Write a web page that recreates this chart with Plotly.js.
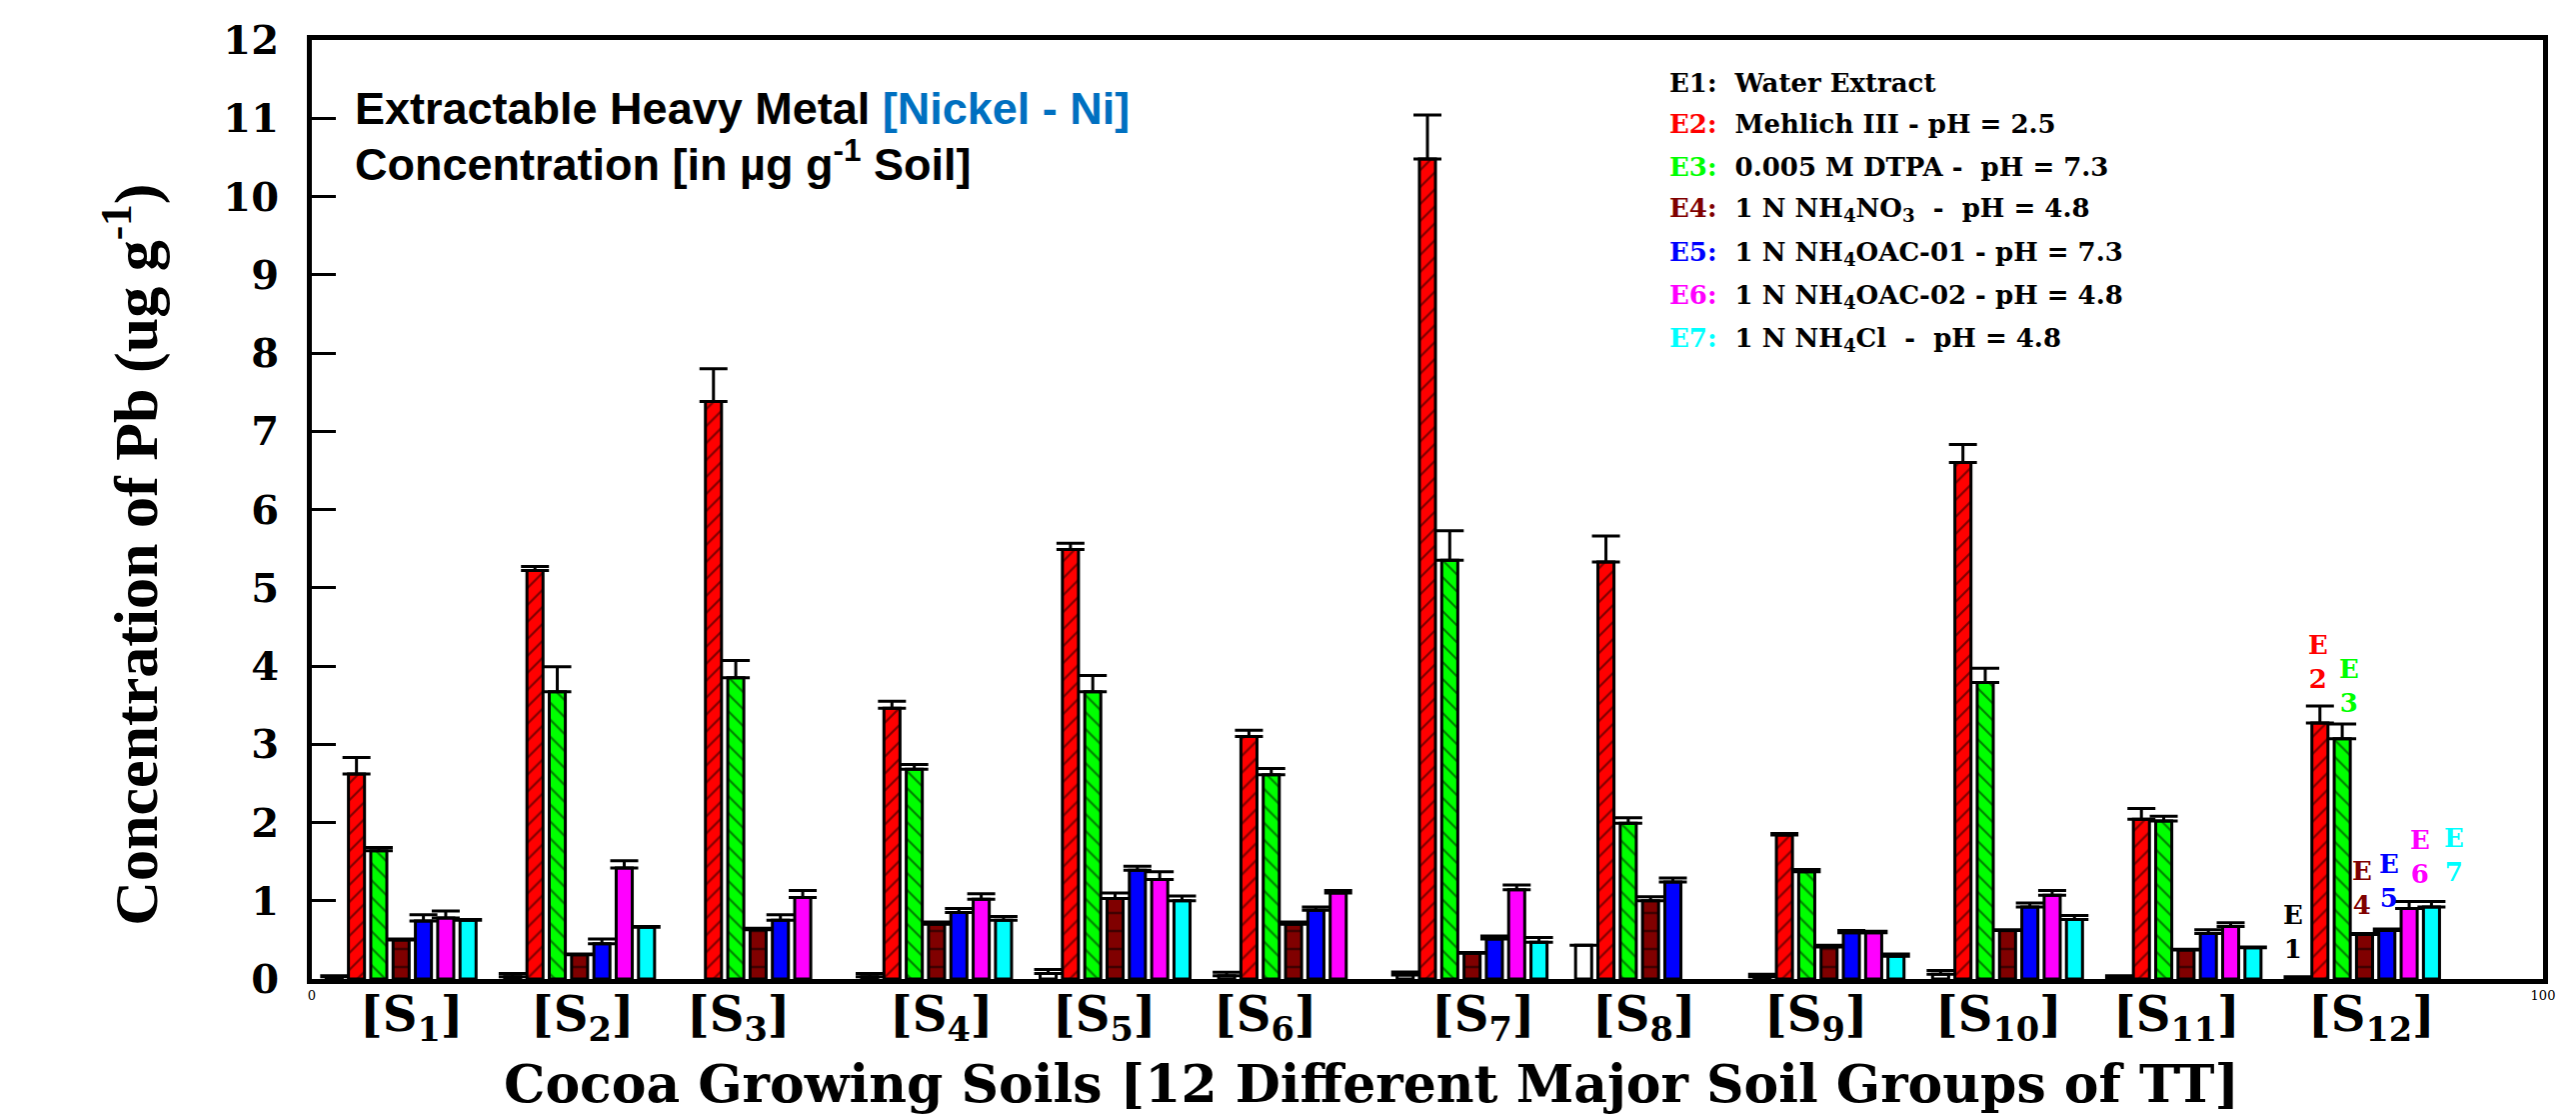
<!DOCTYPE html>
<html>
<head>
<meta charset="utf-8">
<script src="https://cdn.plot.ly/plotly-3.0.1.min.js"></script>
<style>html,body{margin:0;padding:0;background:#fff;}#chart{width:2577px;height:1114px;}</style>
</head>
<body>
<div id="chart"></div>
<script>
// ---- DATA ----
const soils = ['S1','S2','S3','S4','S5','S6','S7','S8','S9','S10','S11','S12'];
const soilLabels = ['[S<sub>1</sub>]','[S<sub>2</sub>]','[S<sub>3</sub>]','[S<sub>4</sub>]','[S<sub>5</sub>]','[S<sub>6</sub>]',
                    '[S<sub>7</sub>]','[S<sub>8</sub>]','[S<sub>9</sub>]','[S<sub>10</sub>]','[S<sub>11</sub>]','[S<sub>12</sub>]'];
const extractNames = ['E1','E2','E3','E4','E5','E6','E7'];
const legendLines = [
  'Water Extract',
  'Mehlich III - pH = 2.5',
  '0.005 M DTPA -&nbsp; pH = 7.3',
  '1 N NH<sub>4</sub>NO<sub>3</sub> &nbsp;-&nbsp; pH = 4.8',
  '1 N NH<sub>4</sub>OAC-01 - pH = 7.3',
  '1 N NH<sub>4</sub>OAC-02 - pH = 4.8',
  '1 N NH<sub>4</sub>Cl &nbsp;-&nbsp; pH = 4.8'
];
const colors = ['#FFFFFF','#FF0000','#00FF00','#800000','#0000FF','#FF00FF','#00FFFF'];
const textColors = ['#000000','#FF0000','#00FF00','#800000','#0000FF','#FF00FF','#00FFFF'];

const e1 = [0.03, 0.03, null, 0.03, 0.07, 0.04, 0.05, 0.43, 0.03, 0.06, 0.02, 0.01];
const e1Err = [0.01, 0.04, 0, 0.04, 0.05, 0.045, 0.04, 0, 0.03, 0.05, 0.02, 0.02];
const e2 = [2.62, 5.22, 7.38, 3.46, 5.49, 3.10, 10.48, 5.33, 1.84, 6.60, 2.04, 3.27];
const e2Err = [0.21, 0.05, 0.42, 0.09, 0.08, 0.08, 0.56, 0.33, 0.02, 0.23, 0.14, 0.22];
const e3 = [1.64, 3.67, 3.85, 2.68, 3.67, 2.61, 5.35, 1.99, 1.37, 3.79, 2.02, 3.07];
const e3Err = [0.04, 0.32, 0.22, 0.06, 0.21, 0.08, 0.38, 0.07, 0.03, 0.18, 0.06, 0.19];
const e4 = [0.50, 0.31, 0.63, 0.70, 1.03, 0.70, 0.33, 1.00, 0.41, 0.62, 0.37, 0.57];
const e4Err = [0.01, 0.01, 0.02, 0.03, 0.07, 0.03, 0.01, 0.05, 0.02, 0.01, 0.01, 0.01];
const e5 = [0.74, 0.45, 0.75, 0.85, 1.39, 0.88, 0.51, 1.24, 0.59, 0.92, 0.58, 0.62];
const e5Err = [0.08, 0.06, 0.07, 0.05, 0.05, 0.04, 0.04, 0.05, 0.03, 0.05, 0.05, 0.02];
const e6 = [0.78, 1.42, 1.04, 1.02, 1.27, 1.10, 1.14, null, 0.59, 1.07, 0.67, 0.90];
const e6Err = [0.09, 0.09, 0.09, 0.07, 0.10, 0.03, 0.06, 0, 0.02, 0.06, 0.05, 0.09];
const e7 = [0.75, 0.66, null, 0.75, 1.00, null, 0.47, null, 0.29, 0.76, 0.40, 0.92];
const e7Err = [0.01, 0.01, 0, 0.05, 0.06, 0, 0.06, 0, 0.03, 0.05, 0.01, 0.07];

const yTicks = [0,1,2,3,4,5,6,7,8,9,10,11,12];
const xTicks = [0, 100];
const xTitle = 'Cocoa Growing Soils [12 Different Major Soil Groups of TT]';
const yTitle = 'Concentration of Pb (ug g<sup>-1</sup>)';

// ---- LAYOUT HELPERS ----
// hand-placed label offsets (x-axis units) relative to each group centre, as in the original figure
const labelShift = [0.45, 0.1, -0.9, 0.2, -0.5, -1.3, 0.5, -0.3, -0.6, -0.4, -0.4, 0.3];

const series = [e1,e2,e3,e4,e5,e6,e7];
const errs = [e1Err,e2Err,e3Err,e4Err,e5Err,e6Err,e7Err];
const patterns = ['', '/', '\\', '-', '', '', ''];
const groupStep = 8;

const traces = series.map((vals, k) => ({
  type: 'bar',
  name: extractNames[k],
  x: soils.map((s, i) => groupStep * i + k + 1),
  y: vals,
  width: 0.72,
  marker: {
    color: colors[k],
    line: {color: '#000000', width: 3},
    pattern: patterns[k] ? {shape: patterns[k], fgcolor: '#000000', bgcolor: colors[k],
                            size: k === 3 ? 18 : 12, solidity: k === 3 ? 0.14 : 0.18, fillmode: 'overlay'} : undefined
  },
  error_y: {
    type: 'data', symmetric: false,
    array: errs[k], arrayminus: errs[k].map(() => 0),
    color: '#000000', thickness: 3, width: 14
  },
  showlegend: false,
  hoverinfo: 'x+y'
}));

const serif = 'DejaVu Serif';
const annotations = [];

// soil labels (below the axis)
soils.forEach((s, i) => {
  annotations.push({
    x: groupStep * i + 4 + labelShift[i], y: -0.041, xref: 'x', yref: 'paper',
    text: soilLabels[i], showarrow: false, xanchor: 'center', yanchor: 'middle',
    font: {family: serif, size: 48, color: '#000', weight: 'bold'}
  });
});

// axis titles
annotations.push({
  xref: 'paper', yref: 'paper', x: 0.475, y: -0.111, xanchor: 'center', yanchor: 'middle', showarrow: false,
  text: xTitle, font: {family: serif, size: 52, color: '#000', weight: 'bold'}
});
annotations.push({
  xref: 'paper', yref: 'paper', x: -0.081, y: 0.452, xanchor: 'center', yanchor: 'middle', showarrow: false,
  textangle: -90,
  text: yTitle, font: {family: 'Liberation Serif', size: 62, color: '#000', weight: 'bold'}
});

// title box
annotations.push({
  xref: 'x', yref: 'y', x: 1.85, y: 11.12, xanchor: 'left', yanchor: 'middle', showarrow: false,
  text: 'Extractable Heavy Metal <span style="color:#0070C0">[Nickel - Ni]</span>',
  font: {family: 'Liberation Sans', size: 45, color: '#000', weight: 'bold'}
});
annotations.push({
  xref: 'x', yref: 'y', x: 1.85, y: 10.46, xanchor: 'left', yanchor: 'middle', showarrow: false,
  text: 'Concentration [in µg g<sup>-1</sup> Soil]',
  font: {family: 'Liberation Sans', size: 45, color: '#000', weight: 'bold'}
});

// legend text lines
const legendY = [11.45, 10.93, 10.38, 9.84, 9.27, 8.72, 8.17];
extractNames.forEach((e, k) => {
  annotations.push({
    xref: 'x', yref: 'y', x: 60.75, y: legendY[k], xanchor: 'left', yanchor: 'middle', showarrow: false,
    text: '<span style="color:' + textColors[k] + '">' + e + ':</span>&nbsp;&nbsp;' + legendLines[k],
    font: {family: serif, size: 26, color: '#000', weight: 'bold'}
  });
});

// stacked labels over S12 bars
const s12Labels = [
  {k: 0, x: 88.8, y: 0.60},
  {k: 1, x: 89.9, y: 4.05},
  {k: 2, x: 91.3, y: 3.75},
  {k: 3, x: 91.9, y: 1.16},
  {k: 4, x: 93.1, y: 1.25},
  {k: 5, x: 94.5, y: 1.56},
  {k: 6, x: 96.0, y: 1.58}
];
s12Labels.forEach(o => {
  annotations.push({
    xref: 'x', yref: 'y', x: o.x, y: o.y, xanchor: 'center', yanchor: 'middle', showarrow: false,
    text: 'E<br>' + extractNames[o.k].slice(1),
    font: {family: serif, size: 26, color: textColors[o.k], weight: 'bold'}
  });
});

const layout = {
  width: 2577, height: 1114,
  margin: {l: 312, r: 33, t: 40, b: 135},
  paper_bgcolor: '#FFFFFF', plot_bgcolor: '#FFFFFF',
  barmode: 'overlay',
  showlegend: false,
  xaxis: {
    range: [0, 100], tickvals: xTicks, ticktext: xTicks.map(String),
    ticks: '', showgrid: false, zeroline: false,
    showline: true, linecolor: '#000', linewidth: 5, mirror: true,
    tickfont: {family: serif, size: 13, color: '#000'}
  },
  yaxis: {
    range: [0, 12], tickvals: yTicks, ticktext: yTicks.map(String),
    ticks: 'inside', ticklen: 24, tickwidth: 3, tickcolor: '#000',
    showgrid: false, zeroline: false,
    showline: true, linecolor: '#000', linewidth: 5, mirror: true,
    ticklabelstandoff: 20,
    tickfont: {family: serif, size: 40, color: '#000', weight: 'bold'}
  },
  annotations: annotations
};

Plotly.newPlot('chart', traces, layout, {displayModeBar: false, staticPlot: true});
</script>
</body>
</html>
